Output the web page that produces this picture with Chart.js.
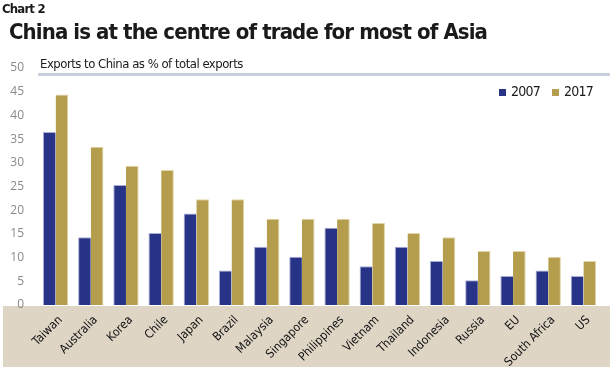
<!DOCTYPE html>
<html>
<head>
<meta charset="utf-8">
<script src="https://cdn.jsdelivr.net/npm/chart.js@4/dist/chart.umd.min.js"></script>
<style>
  body { margin: 0; background: #fff; }
  #wrap { position: relative; width: 613px; height: 369px; }
  #chart { position: absolute; left: 0; top: 0; }
  .lbl { position: absolute; white-space: nowrap; color: #1a1a1a; font-family: "DejaVu Sans Condensed", "DejaVu Sans", sans-serif; font-stretch: condensed; }
  #kicker { left: 2px; top: 1px; font-size: 13px; font-weight: bold; letter-spacing: -0.8px; }
  #title { left: 9px; top: 19px; font-size: 22px; font-weight: bold; letter-spacing: -0.9px; }
  #sub { left: 40px; top: 56px; font-size: 13px; letter-spacing: -0.5px; }
</style>
</head>
<body>
<div id="wrap">
  <canvas id="chart" width="613" height="369"></canvas>
  <div class="lbl" id="kicker">Chart 2</div>
  <div class="lbl" id="title">China is at the centre of trade for most of Asia</div>
  <div class="lbl" id="sub">Exports to China as % of total exports</div>
</div>
<script>
const countries = ["Taiwan", "Australia", "Korea", "Chile", "Japan", "Brazil", "Malaysia", "Singapore",
  "Philippines", "Vietnam", "Thailand", "Indonesia", "Russia", "EU", "South Africa", "US"];
const exports2007 = [36.5, 14.3, 25.3, 15.2, 19.3, 7.3, 12.3, 10.2, 16.3, 8.2, 12.3, 9.3, 5.2, 6.1, 7.3, 6.1];
const exports2017 = [44.4, 33.4, 29.4, 28.5, 22.3, 22.3, 18.2, 18.2, 18.2, 17.3, 15.2, 14.3, 11.4, 11.4, 10.2, 9.3];
const yTicks = [0, 5, 10, 15, 20, 25, 30, 35, 40, 45, 50];

const NAVY = "#273386";
const GOLD = "#b59d4e";
const COND = "'DejaVu Sans Condensed', 'DejaVu Sans', sans-serif";

// beige band under the bars, grey rule under the subtitle, legend in the top right corner
const decor = {
    id: "decor",
    beforeDraw(chart) {
        const c = chart.ctx;
        const area = chart.chartArea;
        c.save();
        c.fillStyle = "#ded5c5";
        c.fillRect(3, area.bottom + 1, chart.width - 6, chart.height - area.bottom - 3);
        c.fillStyle = "#c5d0da";
        c.fillRect(38, 73, 572, 3);
        c.restore();
    },
    afterDraw(chart) {
        const c = chart.ctx;
        c.save();
        c.font = "14px " + COND;
        c.letterSpacing = "-0.8px";
        c.textBaseline = "middle";
        let x = 499;
        chart.data.datasets.forEach(ds => {
            c.fillStyle = ds.backgroundColor;
            c.fillRect(x, 89, 7, 7);
            c.fillStyle = "#1a1a1a";
            c.fillText(ds.label, x + 12, 92.5);
            x += 53;
        });
        c.restore();
    }
};

new Chart(document.getElementById("chart"), {
    type: "bar",
    data: {
        labels: countries,
        datasets: [
            { label: "2007", data: exports2007, backgroundColor: NAVY, borderColor: "#a9aed3", borderWidth: { top: 1, left: 1 } },
            { label: "2017", data: exports2017, backgroundColor: GOLD, borderColor: "#e0d5a8", borderWidth: { top: 1, right: 1 } }
        ]
    },
    options: {
        responsive: false,
        animation: false,
        layout: { padding: { top: 68, right: 12, left: 0, bottom: 0 } },
        datasets: { bar: { categoryPercentage: 0.72, barPercentage: 1 } },
        scales: {
            x: {
                grid: { display: false },
                border: { display: false },
                ticks: {
                    color: "#111",
                    font: { family: COND, size: 12 },
                    minRotation: 45, maxRotation: 45,
                    padding: 0,
                    labelOffset: 5
                },
                afterFit(scale) { scale.height = 64; }
            },
            y: {
                min: 0, max: 50,
                afterBuildTicks(scale) { scale.ticks = yTicks.map(v => ({ value: v })); },
                grid: { display: false },
                border: { display: false },
                ticks: {
                    color: "#8a8a8a",
                    font: { family: "Open Sans", size: 12 },
                    padding: 6
                },
                afterFit(scale) { scale.width = 38; }
            }
        },
        plugins: {
            legend: { display: false },
            tooltip: { enabled: false }
        }
    },
    plugins: [decor]
});
</script>
</body>
</html>
